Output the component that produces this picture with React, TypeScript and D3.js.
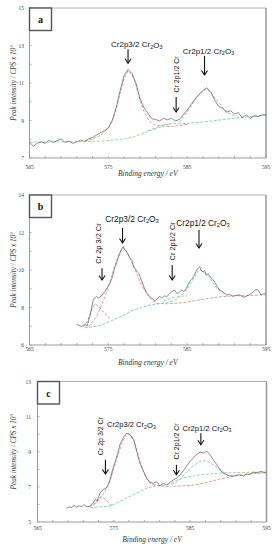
import React from 'react';
import * as d3 from 'd3';

type Pt = [number, number];

// ---------- axis ticks ----------
const xTicks = [565, 575, 585, 595];
const xMinorTicks = [567, 569, 571, 573, 577, 579, 581, 583, 587, 589, 591, 593];
const yTicksA = [7, 9, 11, 13, 15];
const yTicksB = [6, 8, 10, 12, 14];
const yTicksC = [5, 7, 9, 11, 13];

// ---------- panel a ----------
const rawA: Pt[] = [
  [565, 7.85], [565.5, 7.62], [566, 7.8], [566.5, 7.86], [567, 7.78], [567.5, 7.95], [568, 7.84],
  [568.5, 7.92], [569, 8.02], [569.5, 7.84], [570, 7.9], [570.5, 7.78], [571, 7.86], [571.5, 7.96],
  [572, 7.88], [572.5, 8.02], [573, 8.1], [573.5, 8.22], [574, 8.35], [574.5, 8.45], [575, 8.6],
  [575.5, 9.0], [576, 9.7], [576.5, 10.6], [577, 11.4], [577.5, 11.72], [578, 11.5], [578.5, 11.0],
  [579, 10.2], [579.5, 9.7], [580, 9.4], [580.5, 9.1], [581, 9.05], [581.5, 8.98], [582, 9.12],
  [582.5, 9.04], [583, 9.12], [583.5, 8.98], [584, 9.05], [584.5, 9.3], [585, 9.55], [585.5, 9.85],
  [586, 10.15], [586.5, 10.4], [587, 10.6], [587.5, 10.75], [588, 10.5], [588.5, 10.1], [589, 9.75],
  [589.5, 9.65], [590, 9.45], [590.5, 9.52], [591, 9.35], [591.5, 9.42], [592, 9.15], [592.5, 9.3],
  [593, 9.1], [593.5, 9.26], [594, 9.2], [594.5, 9.3], [595, 9.3],
];
const fitA_red: Pt[] = [
  [572, 7.9], [573, 8.0], [574, 8.2], [575, 8.6], [575.5, 9.0], [576, 9.6], [576.5, 10.45], [577, 11.25],
  [577.5, 11.65], [578, 11.45], [578.5, 10.9], [579, 10.1], [579.5, 9.5], [580, 9.1], [580.5, 8.85],
  [581, 8.75], [582, 8.7], [583, 8.68], [584, 8.72], [585, 8.8],
];
const fitA_peak2: Pt[] = [
  [584, 8.9], [585, 9.45], [586, 10.1], [587, 10.6], [587.5, 10.7], [588, 10.5], [589, 9.95], [590, 9.45], [591, 9.25],
];
const fitA_green: Pt[] = [
  [565, 7.85], [568, 7.85], [572, 7.88], [574, 7.9], [576, 7.97], [577, 8.02], [578, 8.1], [579, 8.25],
  [580, 8.4], [581, 8.55], [582, 8.72], [583, 8.85],
];
const fitA_cyan: Pt[] = [
  [580, 8.45], [581, 8.6], [582, 8.78], [583, 8.85], [584, 8.82], [586, 8.88], [588, 8.97], [590, 9.07],
  [592, 9.17], [594, 9.25], [595, 9.3],
];

// ---------- panel b ----------
const rawB: Pt[] = [
  [571, 7.1], [571.3, 7.05], [571.6, 6.98], [572, 7.1], [572.3, 7.0], [572.7, 7.6], [573.1, 8.45],
  [573.5, 8.58], [573.8, 8.5], [574.1, 8.62], [574.4, 8.76], [574.8, 9.0], [575.2, 9.3], [575.5, 9.6],
  [575.8, 10.1], [576.3, 10.7], [576.7, 11.15], [576.9, 11.25], [577.1, 11.05], [577.3, 11.0],
  [577.7, 10.65], [578.0, 10.5], [578.2, 10.2], [578.6, 9.95], [578.9, 9.8], [579.2, 9.45], [579.6, 9.0],
  [579.9, 8.76], [580.2, 8.6], [580.5, 8.5], [580.9, 8.35], [581.2, 8.45], [581.5, 8.6], [581.8, 8.5],
  [582.1, 8.62], [582.4, 8.58], [582.7, 8.7], [583.0, 8.84], [583.4, 8.93], [583.7, 8.75], [583.9, 8.78],
  [584.3, 8.93], [584.6, 8.85], [584.9, 9.02], [585.3, 9.38], [585.6, 9.5], [585.8, 9.64], [586.2, 10.0],
  [586.4, 10.1], [586.6, 10.18], [586.8, 9.95], [587.0, 9.9], [587.2, 9.98], [587.4, 9.73], [587.7, 9.8],
  [587.9, 9.64], [588.3, 9.47], [588.7, 9.2], [589.1, 8.93], [589.5, 8.85], [590.0, 8.67], [590.4, 8.7],
  [590.8, 8.6], [591.2, 8.65], [591.7, 8.67], [592.1, 8.55], [592.5, 8.6], [593.0, 8.7], [593.4, 8.84],
  [593.7, 8.95], [594.0, 8.93], [594.4, 8.67], [594.8, 8.76], [595, 8.7],
];
const fitB_red: Pt[] = [
  [572.5, 6.98], [573.5, 7.5], [574, 8.0], [574.6, 8.6], [575.2, 9.4], [575.8, 10.2], [576.4, 10.9],
  [576.9, 11.2], [577.4, 10.95], [578, 10.4], [578.6, 9.8], [579.2, 9.2], [579.9, 8.7], [580.5, 8.4], [581.1, 8.22],
];
const fitB_pinkBg: Pt[] = [
  [581.1, 8.22], [582.5, 8.2], [584.5, 8.26], [586.5, 8.4], [588.7, 8.55], [591, 8.62], [595, 8.67],
];
const fitB_metal: Pt[] = [
  [571.8, 6.95], [572.4, 7.3], [572.9, 7.9], [573.3, 8.2], [573.8, 8.05], [574.4, 7.75], [575.2, 7.42],
];
const fitB_cyan: Pt[] = [
  [572, 6.92], [573, 6.97], [574, 7.05], [575, 7.22], [575.6, 7.33], [577, 7.6], [578.2, 7.87], [580.3, 8.13],
  [582.4, 8.26], [583.5, 8.4], [584.1, 8.58], [584.9, 8.93], [585.7, 9.47], [586.4, 9.95], [586.7, 10.0],
  [587.2, 9.85], [588, 9.5], [588.8, 9.0], [589.5, 8.8], [590, 8.67],
];
const fitB_green: Pt[] = [[582, 8.35], [583, 8.5], [584, 8.6], [585, 8.62]];

// ---------- panel c ----------
const rawC: Pt[] = [
  [568.8, 5.8], [569.2, 5.85], [569.5, 5.82], [569.8, 5.95], [570.1, 5.85], [570.5, 5.92], [570.8, 5.88],
  [571.1, 5.98], [571.5, 5.86], [571.9, 5.9], [572.3, 6.08], [572.6, 6.3], [572.8, 6.2], [573.2, 6.65],
  [573.6, 6.84], [574.1, 6.97], [574.5, 7.4], [574.9, 8.07], [575.4, 8.73], [575.8, 9.4], [576.3, 9.87],
  [576.7, 10.06], [577.1, 9.97], [577.6, 9.68], [578.0, 9.02], [578.4, 8.36], [578.9, 7.88], [579.3, 7.5],
  [579.7, 7.27], [580.2, 7.2], [580.6, 7.3], [581.0, 7.08], [581.5, 7.2], [581.9, 7.12], [582.4, 7.27],
  [582.8, 7.4], [583.2, 7.5], [583.7, 7.69], [584.1, 7.92], [584.5, 8.16], [585.0, 8.45], [585.4, 8.64],
  [585.8, 8.83], [586.3, 8.98], [586.7, 8.92], [587.2, 9.02], [587.6, 8.83], [588.0, 8.55], [588.5, 8.26],
  [588.9, 7.98], [589.3, 7.79], [589.8, 7.69], [590.2, 7.62], [590.6, 7.6], [591.0, 7.66], [591.5, 7.69],
  [592.0, 7.62], [592.4, 7.73], [592.8, 7.7], [593.3, 7.84], [593.8, 7.8], [594.2, 7.88], [594.6, 7.84], [595, 7.79],
];
const fitC_red: Pt[] = [
  [572.3, 5.95], [573, 6.2], [573.8, 6.7], [574.5, 7.35], [575, 8.05], [575.5, 8.75], [576, 9.4], [576.5, 9.9],
  [576.8, 10.05], [577.2, 9.95], [577.7, 9.6], [578.2, 8.8], [578.8, 7.95], [579.3, 7.45], [579.8, 7.2],
  [580.5, 7.08], [581.5, 7.03], [582.5, 7.02],
];
const fitC_metal: Pt[] = [
  [571.8, 5.88], [572.6, 6.1], [573.3, 6.45], [573.9, 6.3], [574.5, 6.0], [575, 5.9],
];
const fitC_cyan: Pt[] = [
  [571.9, 5.83], [573, 5.85], [574.5, 5.9], [575.5, 6.1], [576.7, 6.37], [578, 6.65], [579.3, 6.93],
  [580.5, 7.05], [581.9, 7.12], [583, 7.2], [583.7, 7.45], [584.5, 7.85], [585.4, 8.2], [586.3, 8.45],
  [586.8, 8.5], [587.5, 8.4], [588, 8.26], [589, 7.95], [589.8, 7.69], [590.6, 7.6],
];
const fitC_green: Pt[] = [
  [582.5, 7.25], [584, 7.5], [586.3, 7.69], [588.9, 7.79], [592, 7.82], [595, 7.84],
];
const fitC_pinkBg: Pt[] = [
  [582.8, 7.03], [585, 7.08], [586.3, 7.16], [588.5, 7.4], [590.6, 7.6], [593, 7.75], [595, 7.8],
];

// ---------- annotations ----------
// horizontal labels: centred at (e, i); rotated labels: end just above the arrow (or at i)
type Ann = { kind: 'oxide' | 'metal'; text: string; e: number; i: number; rot: boolean; arrow?: [number, number, number] };
const annA: Ann[] = [
  { kind: 'oxide', text: 'Cr2p3/2 Cr', e: 578.6, i: 13.05, rot: false, arrow: [577.5, 12.8, 12.05] },
  { kind: 'metal', text: 'Cr 2p1/2 Cr', e: 583.6, i: 10.25, rot: true, arrow: [583.6, 10.25, 9.45] },
  { kind: 'oxide', text: 'Cr2p1/2 Cr', e: 587.7, i: 12.7, rot: false, arrow: [587.2, 12.45, 11.43] },
];
const annB: Ann[] = [
  { kind: 'metal', text: 'Cr 2p 3/2 Cr', e: 573.8, i: 10.1, rot: true, arrow: [574.2, 10.1, 9.47] },
  { kind: 'oxide', text: 'Cr2p3/2 Cr', e: 578.0, i: 12.7, rot: false, arrow: [576.8, 12.24, 11.44] },
  { kind: 'metal', text: 'Cr 2p1/2 Cr', e: 583.1, i: 10.27, rot: true, arrow: [583.1, 10.27, 9.47] },
  { kind: 'oxide', text: 'Cr2p1/2 Cr', e: 587.0, i: 12.5, rot: false, arrow: [586.5, 12.13, 11.17] },
];
const annC: Ann[] = [
  { kind: 'metal', text: 'Cr 2p 3/2 Cr', e: 573.2, i: 8.55, rot: true, arrow: [573.9, 8.55, 7.73] },
  { kind: 'oxide', text: 'Cr2p3/2 Cr', e: 577.3, i: 10.55, rot: false },
  { kind: 'metal', text: 'Cr 2p1/2 Cr', e: 583.2, i: 8.3, rot: true, arrow: [583.2, 8.26, 7.69] },
  { kind: 'oxide', text: 'Cr2p1/2 Cr', e: 587.2, i: 10.33, rot: false, arrow: [586.4, 10.06, 9.4] },
];

const RAW = '#505050';
const RED = '#e89090';
const PINK = '#d8a0a0';
const GREEN = '#9fcf9f';
const CYAN = '#7cc8cc';

type Fit = { pts: Pt[]; color: string };
type PanelCfg = {
  letter: string; left: number; right: number; top: number; bottom: number;
  yDomain: [number, number]; yTicks: number[]; raw: Pt[]; fits: Fit[]; ann: Ann[];
  xLabY: number; xTitleY: number; yLabX: number; horFs: number; rotFs: number;
};

const panels: PanelCfg[] = [
  {
    letter: 'a', left: 29.5, right: 266, top: 8, bottom: 158, yDomain: [7, 15], yTicks: yTicksA,
    raw: rawA, ann: annA, xLabY: 169, xTitleY: 176, yLabX: 24, horFs: 8, rotFs: 7,
    fits: [
      { pts: fitA_green, color: GREEN }, { pts: fitA_cyan, color: CYAN },
      { pts: fitA_red, color: RED }, { pts: fitA_peak2, color: PINK },
    ],
  },
  {
    letter: 'b', left: 29.5, right: 266, top: 195, bottom: 345, yDomain: [6, 14], yTicks: yTicksB,
    raw: rawB, ann: annB, xLabY: 351, xTitleY: 364.5, yLabX: 24, horFs: 8.3, rotFs: 7.4,
    fits: [
      { pts: fitB_green, color: GREEN }, { pts: fitB_pinkBg, color: RED }, { pts: fitB_cyan, color: CYAN },
      { pts: fitB_red, color: RED }, { pts: fitB_metal, color: '#b89898' },
    ],
  },
  {
    letter: 'c', left: 37.5, right: 266.5, top: 381.5, bottom: 522, yDomain: [5, 13], yTicks: yTicksC,
    raw: rawC, ann: annC, xLabY: 530, xTitleY: 541.5, yLabX: 31, horFs: 7.6, rotFs: 7,
    fits: [
      { pts: fitC_green, color: GREEN }, { pts: fitC_pinkBg, color: RED }, { pts: fitC_cyan, color: CYAN },
      { pts: fitC_red, color: RED }, { pts: fitC_metal, color: '#d89090' },
    ],
  },
];

const SANS = 'Liberation Sans, Arial, sans-serif';
const SERIF = 'Liberation Serif, Times New Roman, serif';

function Label({ a, x, y, fs }: { a: Ann; x: number; y: number; fs: number }) {
  if (a.rot) {
    const yy = y - 4.5;
    return (
      <text x={x} y={yy} fontFamily={SANS} fontSize={fs} textAnchor="start" dominantBaseline="central"
        transform={`rotate(-90 ${x} ${yy})`} fill="#111">
        {a.text}
      </text>
    );
  }
  return (
    <text x={x} y={y} fontFamily={SANS} fontSize={fs} textAnchor="middle" dominantBaseline="central" fill="#111">
      {a.text}
      <tspan fontSize={fs * 0.68} dy={2}>2</tspan>
      <tspan dy={-2}>O</tspan>
      <tspan fontSize={fs * 0.68} dy={2}>3</tspan>
    </text>
  );
}

function Panel({ p }: { p: PanelCfg }) {
  const x = d3.scaleLinear().domain([565, 595]).range([p.left, p.right]);
  const y = d3.scaleLinear().domain(p.yDomain).range([p.bottom, p.top]);
  const line = d3.line<Pt>().x(d => x(d[0])).y(d => y(d[1]));
  const yMinor = d3.range(p.yDomain[0] + 1, p.yDomain[1], 2);
  const midY = (p.top + p.bottom) / 2;
  const midX = (p.left + p.right) / 2;
  return (
    <g>
      {/* frame */}
      <line x1={p.left} x2={p.right} y1={p.top} y2={p.top} stroke="#b0b0b0" strokeWidth={1} />
      <line x1={p.right} x2={p.right} y1={p.top} y2={p.bottom} stroke="#9a9a9a" strokeWidth={1.5} />
      <line x1={p.left} x2={p.left} y1={p.top} y2={p.bottom} stroke="#9a9a9a" strokeWidth={1} />
      <line x1={p.left} x2={p.right} y1={p.bottom} y2={p.bottom} stroke="#9a9a9a" strokeWidth={1} />
      {/* x ticks */}
      {xTicks.concat(xMinorTicks).map(t => (
        <line key={'xt' + t} x1={x(t)} x2={x(t)} y1={p.bottom} y2={p.bottom - 2} stroke="#9a9a9a" strokeWidth={0.8} />
      ))}
      {xTicks.map(t => (
        <text key={'xl' + t} x={x(t)} y={p.xLabY} fontFamily={SERIF} fontSize={5.5} textAnchor="middle" fill="#444">{t}</text>
      ))}
      {/* y ticks */}
      {p.yTicks.concat(yMinor).map(t => (
        <line key={'yt' + t} x1={p.left} x2={p.left + 2} y1={y(t)} y2={y(t)} stroke="#9a9a9a" strokeWidth={0.8} />
      ))}
      {p.yTicks.map(t => (
        <text key={'yl' + t} x={p.yLabX} y={y(t)} fontFamily={SERIF} fontSize={5.5} textAnchor="end" dominantBaseline="central" fill="#444">{t}</text>
      ))}
      {/* titles */}
      <text x={midX} y={p.xTitleY} fontFamily={SERIF} fontStyle="italic" fontSize={7.5} textAnchor="middle" fill="#333">
        Binding energy / eV
      </text>
      <text x={13.5} y={midY} fontFamily={SERIF} fontStyle="italic" fontSize={7.2} textAnchor="middle"
        dominantBaseline="central" transform={`rotate(-90 13.5 ${midY})`} fill="#333">
        Peak intensity / CPS x 10<tspan fontSize={5} dy={-2.5}>3</tspan>
      </text>
      {/* fits */}
      {p.fits.map((f, k) => (
        <path key={'f' + k} d={line(f.pts) ?? ''} fill="none" stroke={f.color} strokeWidth={0.9} strokeDasharray="3 1.5" />
      ))}
      {/* raw */}
      <path d={line(p.raw) ?? ''} fill="none" stroke={RAW} strokeWidth={0.65} strokeLinejoin="round" />
      {/* annotations */}
      {p.ann.map((a, k) => (
        <g key={'a' + k}>
          <Label a={a} x={x(a.e)} y={y(a.i)} fs={a.rot ? p.rotFs : p.horFs} />
          {a.arrow ? (
            <g stroke="#111" strokeWidth={1.1} fill="none">
              <line x1={x(a.arrow[0])} x2={x(a.arrow[0])} y1={y(a.arrow[1])} y2={y(a.arrow[2])} />
              <polyline points={`${x(a.arrow[0]) - 3},${y(a.arrow[2]) - 4.5} ${x(a.arrow[0])},${y(a.arrow[2])} ${x(a.arrow[0]) + 3},${y(a.arrow[2]) - 4.5}`} />
            </g>
          ) : null}
        </g>
      ))}
      {/* letter box */}
      <rect x={p.left} y={p.top} width={22} height={22.5} fill="#fff" stroke="#555" strokeWidth={1.4} />
      <text x={p.left + 11} y={p.top + 11.5} fontFamily={SERIF} fontWeight="bold" fontSize={10} textAnchor="middle"
        dominantBaseline="central" fill="#111">{p.letter}</text>
    </g>
  );
}

export default function App() {
  return (
    <svg width={276} height={550} viewBox="0 0 276 550"
      style={{ position: 'absolute', left: 0, top: 0, background: '#fff' }}>
      <rect x={0} y={0} width={276} height={550} fill="#fff" />
      {panels.map(p => <Panel key={p.letter} p={p} />)}
    </svg>
  );
}
